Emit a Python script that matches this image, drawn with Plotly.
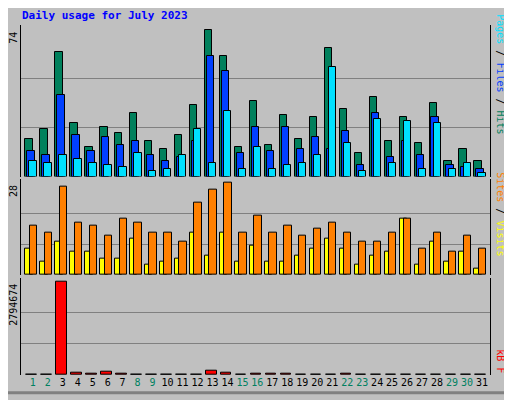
import plotly.graph_objects as go

days = list(range(1, 32))
hits = [19, 24, 63, 27, 15, 25, 22, 32, 18, 14, 21, 36, 74, 61, 15, 38, 16, 31, 19, 30, 65, 34, 12, 40, 18, 30, 17, 37, 8, 14, 8]
files = [13, 11, 41, 21, 13, 20, 16, 18, 11, 8, 10, 18, 61, 53, 12, 25, 13, 25, 14, 20, 14, 23, 6, 32, 10, 18, 11, 30, 6, 5, 4]
pages = [8, 7, 11, 9, 7, 6, 5, 12, 3, 4, 11, 24, 7, 33, 4, 15, 4, 6, 7, 11, 55, 17, 3, 29, 7, 28, 4, 27, 4, 7, 2]
visits = [15, 13, 27, 16, 15, 12, 17, 16, 13, 13, 10, 22, 26, 28, 13, 18, 13, 15, 12, 14, 16, 13, 10, 10, 13, 17, 8, 13, 7, 12, 8]
sites = [8, 4, 10, 7, 7, 5, 5, 11, 3, 4, 5, 13, 6, 13, 4, 9, 4, 4, 6, 8, 11, 8, 3, 6, 7, 17, 3, 10, 4, 7, 2]
kbytes = [8000, 8000, 2794674, 82000, 51000, 113000, 51000, 8000, 8000, 8000, 8000, 8000, 144000, 82000, 8000,
          51000, 51000, 51000, 8000, 8000, 8000, 51000, 8000, 8000, 8000, 8000, 8000, 8000, 8000, 8000, 8000]
weekend = [1, 2, 8, 9, 15, 16, 22, 23, 29, 30]

max_hits = max(hits)
max_visits = max(visits)
max_kb = max(kbytes)

fig = go.Figure()
line = dict(color="black", width=1)

def bar(y, color, off, w, axis):
    fig.add_trace(go.Bar(x=days, y=y, marker=dict(color=color, line=line), offset=off, width=w,
                         xaxis="x", yaxis=axis, showlegend=False))

bar(hits, "#00805c", 0.0, 0.49, "y")
bar(files, "#0040ff", 0.13, 0.49, "y")
bar(pages, "#00e0ff", 0.27, 0.49, "y")
bar(sites, "#ffff00", 0.0, 0.49, "y2")
bar(visits, "#ff8000", 0.29, 0.49, "y2")
bar(kbytes, "#ff0000", 0.07, 0.7, "y3")

ax = dict(showline=True, mirror=True, linecolor="black", linewidth=1, gridcolor="#808080",
          showticklabels=False, zeroline=False, ticks="")
# page body has an 8px margin, so the figure is drawn 8px smaller and shifted
fig.update_layout(
    width=504, height=392, barmode="overlay", bargap=0,
    paper_bgcolor="#c0c0c0", plot_bgcolor="#c0c0c0",
    margin=dict(l=13, r=22, t=17, b=22),
    font=dict(family="DejaVu Sans Mono", size=10, color="black"),
    xaxis=dict(range=[0.71, 32.04], tickvals=[d + 0.5 for d in days],
               ticktext=[f"<span style='color:{'#008060' if d in weekend else 'black'}'>{d}</span>" for d in days],
               showline=False, showgrid=False, zeroline=False, ticks="", anchor="y3"),
    yaxis=dict(ax, domain=[0.567, 1], range=[0, max_hits * 1.032],
               tickvals=[max_hits / 3, max_hits * 2 / 3]),
    yaxis2=dict(ax, domain=[0.286, 0.561], range=[0, max_visits * 1.047],
                tickvals=[max_visits / 3, max_visits * 2 / 3]),
    yaxis3=dict(ax, domain=[0, 0.278], range=[0, max_kb * 1.044],
                tickvals=[max_kb / 3, max_kb * 2 / 3]),
)

fig.add_annotation(x=-0.002, y=1.028, xref="paper", yref="paper", xanchor="left", yanchor="middle", showarrow=False,
                   text="<b>Daily usage for July 2023</b>", font=dict(color="#0000ff", size=11))
for val, yv, ya in [(max_hits, max_hits, "y"), (max_visits, max_visits, "y2"), (max_kb, max_kb, "y3")]:
    fig.add_annotation(x=-0.015, y=yv, xref="paper", yref=ya, xanchor="center", yanchor="top", textangle=-90,
                       showarrow=False, text=str(val))
fig.add_annotation(x=1.023, y=0.86, xref="paper", yref="paper", xanchor="center", yanchor="middle", textangle=90,
                   showarrow=False,
                   text="<span style='color:#00e0ff'>Pages</span> / <span style='color:#0040ff'>Files</span> / <span style='color:#00805c'>Hits</span>")
fig.add_annotation(x=1.023, y=0.46, xref="paper", yref="paper", xanchor="center", yanchor="middle", textangle=90,
                   showarrow=False,
                   text="<span style='color:#ff8000'>Sites</span> / <span style='color:#ffff00'>Visits</span>")
fig.add_annotation(x=1.023, y=0.04, xref="paper", yref="paper", xanchor="center", yanchor="middle", textangle=90,
                   showarrow=False, text="<span style='color:#ff0000'>kB F</span>")

# window bevel (right/bottom)
fig.add_shape(type="line", xref="paper", yref="paper", x0=-0.03, x1=1.04, y0=-0.051, y1=-0.051, line=dict(color="#808080", width=3))
fig.add_shape(type="line", xref="paper", yref="paper", x0=1.04, x1=1.04, y0=-0.051, y1=1.05, line=dict(color="#808080", width=3))

fig.write_html("out.html")
